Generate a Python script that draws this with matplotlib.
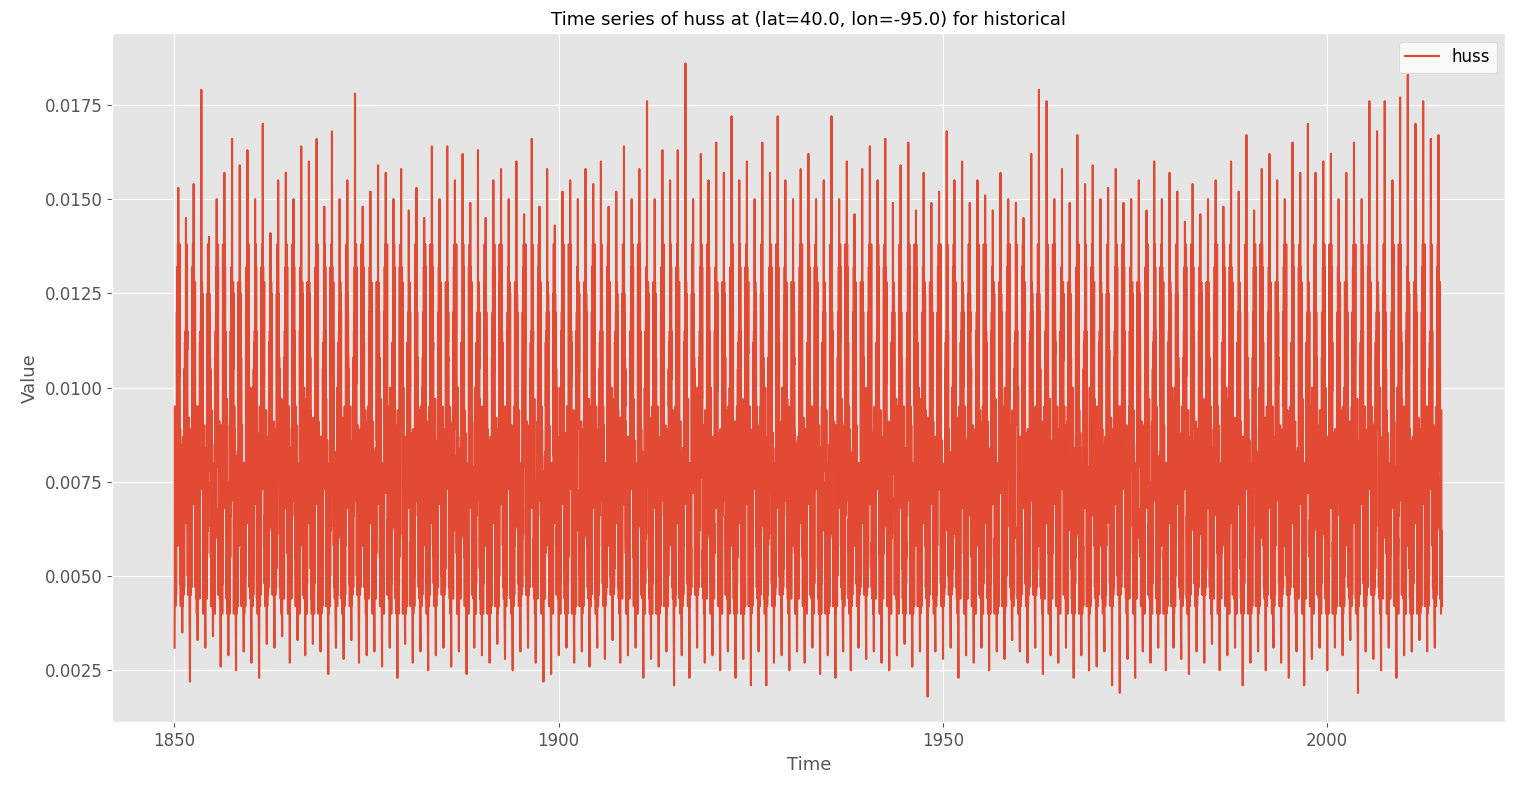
import matplotlib
matplotlib.use("Agg")
import matplotlib.pyplot as plt

plt.style.use("ggplot")

years = list(range(1850, 2015))
# annual maxima (summer)
peaks = [0.0153,0.0145,0.0154,0.0179,0.0140,0.0150,0.0157,0.0166,0.0159,0.0163,
 0.0150,0.0170,0.0141,0.0155,0.0157,0.0150,0.0164,0.0160,0.0166,0.0148,
 0.0168,0.0150,0.0155,0.0178,0.0148,0.0152,0.0159,0.0157,0.0150,0.0158,
 0.0147,0.0153,0.0145,0.0164,0.0150,0.0164,0.0155,0.0162,0.0149,0.0163,
 0.0145,0.0155,0.0158,0.0150,0.0160,0.0146,0.0166,0.0148,0.0158,0.0143,
 0.0152,0.0155,0.0150,0.0158,0.0154,0.0160,0.0148,0.0152,0.0164,0.0150,
 0.0158,0.0176,0.0150,0.0163,0.0155,0.0163,0.0186,0.0150,0.0162,0.0155,
 0.0165,0.0157,0.0172,0.0155,0.0160,0.0150,0.0165,0.0157,0.0172,0.0155,
 0.0150,0.0158,0.0162,0.0150,0.0155,0.0172,0.0150,0.0160,0.0146,0.0158,
 0.0164,0.0155,0.0166,0.0149,0.0159,0.0165,0.0147,0.0157,0.0149,0.0152,
 0.0168,0.0155,0.0160,0.0149,0.0155,0.0151,0.0147,0.0157,0.0150,0.0149,
 0.0145,0.0162,0.0179,0.0176,0.0150,0.0158,0.0149,0.0167,0.0154,0.0159,
 0.0150,0.0153,0.0158,0.0149,0.0150,0.0155,0.0147,0.0160,0.0150,0.0157,
 0.0152,0.0144,0.0154,0.0146,0.0150,0.0155,0.0148,0.0160,0.0152,0.0167,
 0.0147,0.0158,0.0162,0.0155,0.0150,0.0165,0.0157,0.0170,0.0157,0.0160,
 0.0162,0.0150,0.0157,0.0165,0.0150,0.0176,0.0168,0.0176,0.0155,0.0177,
 0.0183,0.0170,0.0176,0.0166,0.0167]
# annual minima (winter)
troughs = [0.0031,0.0035,0.0022,0.0033,0.0031,0.0034,0.0026,0.0029,0.0025,0.0030,
 0.0027,0.0023,0.0032,0.0031,0.0034,0.0027,0.0033,0.0029,0.0032,0.0030,
 0.0024,0.0031,0.0028,0.0033,0.0027,0.0029,0.0030,0.0026,0.0031,0.0023,
 0.0032,0.0027,0.0030,0.0025,0.0029,0.0031,0.0026,0.0030,0.0024,0.0031,
 0.0029,0.0027,0.0032,0.0028,0.0025,0.0030,0.0031,0.0027,0.0022,0.0024,
 0.0029,0.0031,0.0027,0.0030,0.0026,0.0031,0.0028,0.0033,0.0027,0.0029,
 0.0031,0.0023,0.0028,0.0026,0.0030,0.0021,0.0029,0.0023,0.0031,0.0027,
 0.0029,0.0025,0.0030,0.0023,0.0028,0.0021,0.0030,0.0021,0.0027,0.0029,
 0.0025,0.0030,0.0027,0.0031,0.0024,0.0029,0.0023,0.0030,0.0025,0.0031,
 0.0028,0.0030,0.0027,0.0025,0.0029,0.0032,0.0026,0.0030,0.0018,0.0030,
 0.0028,0.0031,0.0023,0.0029,0.0027,0.0031,0.0025,0.0030,0.0028,0.0033,
 0.0030,0.0027,0.0031,0.0024,0.0029,0.0027,0.0031,0.0023,0.0029,0.0025,
 0.0026,0.0030,0.0021,0.0019,0.0028,0.0023,0.0030,0.0027,0.0031,0.0025,
 0.0031,0.0028,0.0024,0.0030,0.0027,0.0032,0.0025,0.0029,0.0031,0.0021,
 0.0027,0.0030,0.0025,0.0031,0.0027,0.0023,0.0030,0.0021,0.0028,0.0031,
 0.0025,0.0031,0.0029,0.0033,0.0019,0.0030,0.0028,0.0025,0.0031,0.0023,
 0.0029,0.0030,0.0033,0.0030,0.0031]
# intermediate levels seen in the dense band
mid_levels = [0.0095,0.0080,0.0090,0.0085,0.0100,0.0082,0.0088,0.0094,0.0079,0.0091,
 0.0086,0.0097,0.0083,0.0089,0.0092,0.0080,0.0095,0.0087,0.0090,0.0084,
 0.0062,0.0075,0.0058,0.0068,0.0072,0.0060,0.0078,0.0065,0.0070,0.0057,
 0.0074,0.0063,0.0069,0.0059,0.0076,0.0066,0.0061,0.0073,0.0064,0.0071]
low_levels = [0.0048,0.0055,0.0042,0.0050,0.0045,0.0058,0.0047,0.0052,0.0044,0.0056,0.0040]
high_levels = [0.0120,0.0105,0.0132,0.0112,0.0125,0.0108,0.0138,0.0115,0.0128]

t, v = [], []
for i, y in enumerate(years):
    seq = [troughs[i]]
    for k in range(6):
        seq.append(low_levels[(i + k) % len(low_levels)])
        seq.append(mid_levels[(i * 3 + k * 7) % len(mid_levels)])
    for k in range(4):
        seq.append(high_levels[(i + k * 2) % len(high_levels)])
        seq.append(mid_levels[(i * 5 + k * 11) % len(mid_levels)])
    seq.append(peaks[i])
    for k in range(4):
        seq.append(mid_levels[(i * 7 + k * 3) % len(mid_levels)] + 0.0015)
        seq.append(high_levels[(i + k * 5) % len(high_levels)])
    for k in range(6):
        seq.append(mid_levels[(i * 2 + k * 13) % len(mid_levels)])
        seq.append(low_levels[(i * 3 + k) % len(low_levels)])
    n = len(seq)
    for j, val in enumerate(seq):
        t.append(y + 0.02 + 0.96 * j / n); v.append(val)

fig, ax = plt.subplots(figsize=(15.16, 7.92), dpi=100)
ax.plot(t, v, color="#E24A33", lw=1.5, label="huss")
ax.set_title("Time series of huss at (lat=40.0, lon=-95.0) for historical", fontsize=13)
ax.set_xlabel("Time", fontsize=13)
ax.set_ylabel("Value", fontsize=13)
ax.tick_params(labelsize=12)
ax.set_xlim(1841.9, 2023.2)
ax.set_ylim(0.00112, 0.0194)
ax.set_xticks([1850, 1900, 1950, 2000])
ax.set_yticks([0.0025, 0.005, 0.0075, 0.01, 0.0125, 0.015, 0.0175])
ax.yaxis.set_major_formatter(matplotlib.ticker.FormatStrFormatter("%.4f"))
ax.legend(loc="upper right", fontsize=12, facecolor="white")
fig.subplots_adjust(left=0.074, right=0.993, top=0.958, bottom=0.088)
fig.savefig("out.png")
